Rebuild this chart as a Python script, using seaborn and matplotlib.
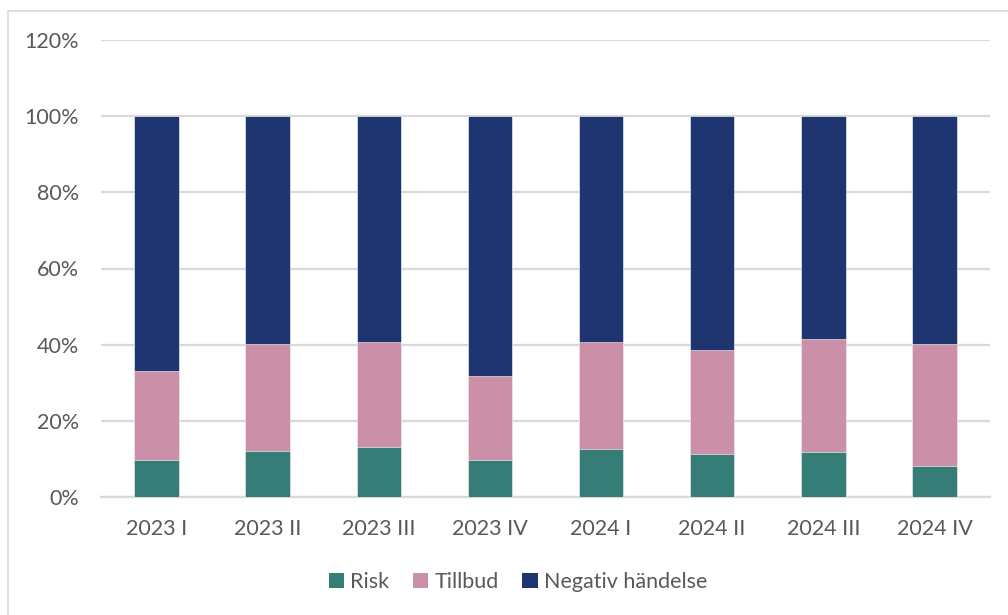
import matplotlib
matplotlib.use("Agg")
import matplotlib.pyplot as plt
import seaborn as sns
import numpy as np
from matplotlib.patches import Patch, Rectangle

quarters = ["2023 I", "2023 II", "2023 III", "2023 IV", "2024 I", "2024 II", "2024 III", "2024 IV"]
risk = [9.6, 12.1, 13.2, 9.8, 12.5, 11.4, 11.8, 8.2]
tillbud = [23.4, 28.0, 27.5, 22.1, 28.1, 27.1, 29.8, 31.9]
negativ = [67.0, 59.9, 59.3, 68.1, 59.4, 61.5, 58.4, 59.9]
series_names = ["Risk", "Tillbud", "Negativ händelse"]
colors = ["#367D78", "#CC8FA8", "#1F3570"]
yticks = [0, 20, 40, 60, 80, 100, 120]

sns.set_theme(style="white")
plt.rcParams["font.family"] = ["Lato", "DejaVu Sans"]
text_color = "#595959"
grid_color = "#D9D9D9"

fig = plt.figure(figsize=(10.08, 6.15), dpi=100)
ax = fig.add_axes([101 / 1008, 1 - 497 / 615, (990 - 101) / 1008, (497 - 40) / 615])

r = np.array(risk)
t = np.array(tillbud)
n = np.array(negativ)
tops = [r + t + n, r + t, r]
draw_colors = [colors[2], colors[1], colors[0]]
for h, c in zip(tops, draw_colors):
    sns.barplot(x=quarters, y=h, color=c, width=0.4, ax=ax, saturation=1,
                edgecolor="#FFFFFF", linewidth=0.4, zorder=3)

ax.set_ylim(0, 120)
ax.set_xlim(-0.5, len(quarters) - 0.5)
ax.set_yticks(yticks)
ax.set_yticklabels([f"{v}%" for v in yticks])
ax.set_xlabel("")
ax.set_ylabel("")
ax.grid(axis="y", color=grid_color, linewidth=1.6, zorder=0)
ax.set_axisbelow(True)
for s in ["top", "right", "left"]:
    ax.spines[s].set_visible(False)
ax.spines["bottom"].set_color(grid_color)
ax.spines["bottom"].set_linewidth(1.6)
ax.tick_params(axis="y", length=0, pad=16, labelsize=15.5, labelcolor=text_color)
ax.tick_params(axis="x", length=0, pad=16, labelsize=15.5, labelcolor=text_color)

handles = [Patch(facecolor=c, edgecolor="none") for c in colors]
fig.legend(handles, series_names, loc="center", bbox_to_anchor=(518 / 1008, 1 - 582 / 615),
           ncol=3, frameon=False, fontsize=15.5, labelcolor=text_color,
           handlelength=0.7, handleheight=0.7, handletextpad=0.3, columnspacing=1.1)

fig.patches.append(Rectangle((8 / 1008, -0.1), 1.2, 1.1 - 10.5 / 615 + 0.0,
                             transform=fig.transFigure, fill=False,
                             edgecolor=grid_color, linewidth=1.2))

fig.savefig("out.png", dpi=100)
